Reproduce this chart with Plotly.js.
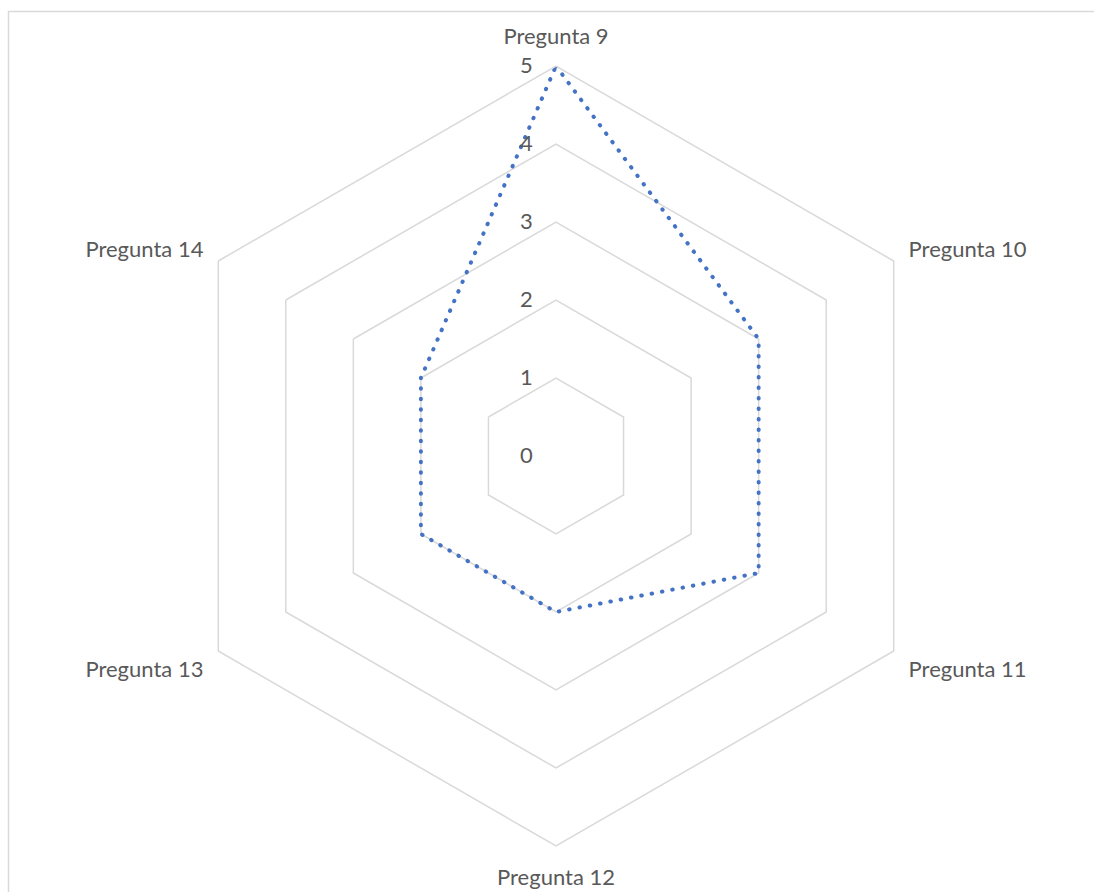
<!DOCTYPE html>
<html>
<head>
<meta charset="utf-8">
<script src="https://cdn.plot.ly/plotly-3.0.1.min.js"></script>
<style>
  html, body { margin: 0; padding: 0; background: #fff; }
  #chart { width: 1094px; height: 892px; }
  /* round caps turn the short dashes into dots */
  .scatterlayer path.js-line { stroke-linecap: round; }
</style>
</head>
<body>
<div id="chart"></div>
<script>
// Radar chart: answers per question
const categories = ['Pregunta 9', 'Pregunta 10', 'Pregunta 11', 'Pregunta 12', 'Pregunta 13', 'Pregunta 14'];
const values = [5, 3, 3, 2, 2, 2];
const radialTicks = [0, 1, 2, 3, 4, 5];

const W = 1094, H = 892;
const cx = 556, cy = 456, R = 390;

const textColor = '#595959';
const gridColor = '#D9D9D9';
const fontFamily = 'Lato, "Open Sans", sans-serif';

const trace = {
  type: 'scatterpolar',
  r: values.concat([values[0]]),
  theta: categories.concat([categories[0]]),
  mode: 'lines',
  line: { color: '#4472C4', width: 4, dash: '0.5px,10px' },
  hoverinfo: 'skip',
  showlegend: false
};

const layout = {
  width: W,
  height: H,
  margin: { l: 0, r: 0, t: 0, b: 0 },
  paper_bgcolor: '#ffffff',
  plot_bgcolor: '#ffffff',
  font: { family: fontFamily, color: textColor, size: 22 },
  showlegend: false,
  polar: {
    domain: {
      x: [(cx - R) / W, (cx + R) / W],
      y: [1 - (cy + R) / H, 1 - (cy - R) / H]
    },
    gridshape: 'linear',
    bgcolor: 'rgba(0,0,0,0)',
    radialaxis: {
      range: [0, 5],
      tickvals: radialTicks,
      ticktext: radialTicks.map(String),
      angle: 90,
      side: 'counterclockwise',
      showline: false,
      showgrid: true,
      gridcolor: gridColor,
      gridwidth: 1.5,
      ticks: 'outside',
      ticklen: 15,
      tickcolor: 'rgba(0,0,0,0)',
      tickangle: 90,
      tickfont: { family: fontFamily, color: textColor, size: 22 }
    },
    angularaxis: {
      type: 'category',
      categoryarray: categories,
      direction: 'clockwise',
      rotation: 90,
      showgrid: false,
      showline: true,
      linecolor: gridColor,
      linewidth: 1.5,
      ticks: 'outside',
      ticklen: 12,
      tickcolor: 'rgba(0,0,0,0)',
      tickfont: { family: fontFamily, color: textColor, size: 22 }
    }
  },
  shapes: [{
    type: 'rect',
    xref: 'paper', yref: 'paper',
    x0: 8.5 / W, x1: 1.02,
    y0: -0.02, y1: 1 - 11.5 / H,
    line: { color: gridColor, width: 1.5 },
    fillcolor: 'rgba(0,0,0,0)',
    layer: 'below'
  }]
};

Plotly.newPlot('chart', [trace], layout, { displayModeBar: false, staticPlot: true });
</script>
</body>
</html>
